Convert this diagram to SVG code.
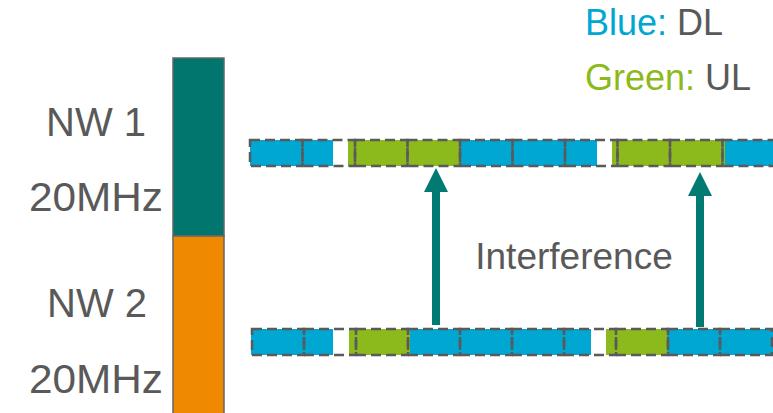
<svg xmlns="http://www.w3.org/2000/svg" width="773" height="413" viewBox="0 0 773 413">
<style>
  .txt{font-family:"Liberation Sans",Arial,sans-serif;fill:#595959}
  .blue{fill:#00A7D3}
  .green{fill:#8CB91B}
  .cell{fill:none;stroke:#5a5a5a;stroke-width:2.5;stroke-dasharray:10 5}
  .arrow{stroke:#007A72;stroke-width:8;fill:none}
</style>
<defs>
  <marker id="ah" viewBox="0 0 24 24" refX="0" refY="12" markerWidth="24" markerHeight="24" markerUnits="userSpaceOnUse" orient="auto">
    <path d="M0,0 L24,12 L0,24 z" fill="#007A72"/>
  </marker>
</defs>
<rect width="773" height="413" fill="#ffffff"/>

<g id="legend">
  <text class="txt" x="585" y="35" font-size="36"><tspan fill="#00A7D3">Blue:</tspan> DL</text>
  <text class="txt" x="585" y="90" font-size="36"><tspan fill="#8CB91B">Green:</tspan> UL</text>
</g>

<g id="bandwidth-bar">
  <rect x="173" y="58" width="51" height="178" fill="#00766F" stroke="#666" stroke-width="1.5"/>
  <rect x="173" y="236" width="51" height="180" fill="#EF8A00" stroke="#666" stroke-width="1.5"/>
</g>

<g id="nw1-label">
  <text class="txt" x="96" y="136" font-size="40" text-anchor="middle">NW 1</text>
  <text class="txt" x="29" y="211" font-size="40" textLength="134" lengthAdjust="spacingAndGlyphs">20MHz</text>
</g>
<g id="nw2-label">
  <text class="txt" x="97" y="317" font-size="40" text-anchor="middle">NW 2</text>
  <text class="txt" x="29" y="393" font-size="40" textLength="134" lengthAdjust="spacingAndGlyphs">20MHz</text>
</g>

<g id="nw1-frames">
  <rect class="blue" x="250" y="140" width="83" height="26"/>
  <rect class="green" x="348" y="140" width="112" height="26"/>
  <rect class="blue" x="460" y="140" width="137" height="26"/>
  <rect class="green" x="612" y="140" width="113" height="26"/>
  <rect class="blue" x="725" y="140" width="48" height="26"/>
  <rect class="cell" x="250" y="140" width="52.5" height="26"/>
  <rect class="cell" x="302.5" y="140" width="52.5" height="26"/>
  <rect class="cell" x="355" y="140" width="52.5" height="26"/>
  <rect class="cell" x="407.5" y="140" width="52.5" height="26"/>
  <rect class="cell" x="460" y="140" width="52.5" height="26"/>
  <rect class="cell" x="512.5" y="140" width="52.5" height="26"/>
  <rect class="cell" x="565" y="140" width="52.5" height="26"/>
  <rect class="cell" x="617.5" y="140" width="52.5" height="26"/>
  <rect class="cell" x="670" y="140" width="52.5" height="26"/>
  <rect class="cell" x="722.5" y="140" width="52.5" height="26"/>
</g>

<g id="nw2-frames">
  <rect class="blue" x="251" y="329" width="82" height="26"/>
  <rect class="green" x="349" y="329" width="61" height="26"/>
  <rect class="blue" x="410" y="329" width="181" height="26"/>
  <rect class="green" x="606" y="329" width="61" height="26"/>
  <rect class="blue" x="667" y="329" width="106" height="26"/>
  <rect class="cell" x="252" y="329" width="52" height="26"/>
  <rect class="cell" x="304" y="329" width="52" height="26"/>
  <rect class="cell" x="356" y="329" width="52" height="26"/>
  <rect class="cell" x="408" y="329" width="52" height="26"/>
  <rect class="cell" x="460" y="329" width="52" height="26"/>
  <rect class="cell" x="512" y="329" width="52" height="26"/>
  <rect class="cell" x="564" y="329" width="52" height="26"/>
  <rect class="cell" x="616" y="329" width="52" height="26"/>
  <rect class="cell" x="668" y="329" width="52" height="26"/>
  <rect class="cell" x="720" y="329" width="52" height="26"/>
</g>

<g id="interference-label">
  <text class="txt" x="574" y="269" font-size="37" text-anchor="middle">Interference</text>
</g>

<g id="connectors">
  <line class="arrow" x1="436" y1="325" x2="436" y2="192" marker-end="url(#ah)"/>
  <line class="arrow" x1="700" y1="327" x2="700" y2="196" marker-end="url(#ah)"/>
</g>
</svg>
